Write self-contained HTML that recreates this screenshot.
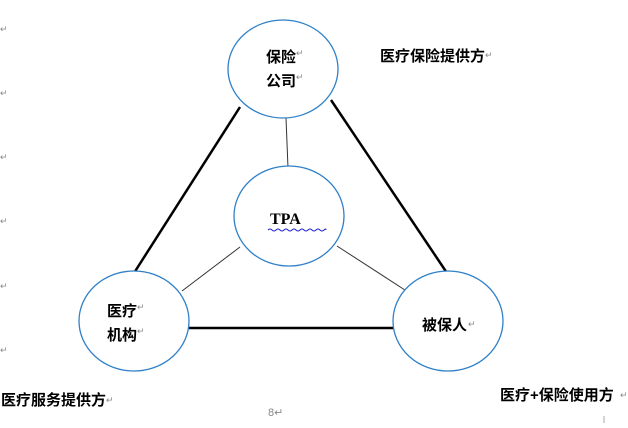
<!DOCTYPE html><html><head><meta charset="utf-8"><style>body{margin:0;background:#fff;width:628px;height:423px;overflow:hidden}</style></head><body>
<svg width="628" height="423" xmlns="http://www.w3.org/2000/svg" font-family="'Liberation Sans','Noto Sans CJK SC',sans-serif">
<g stroke="#000" stroke-width="2.5"><line x1="240" y1="107" x2="134" y2="273"/><line x1="331" y1="100" x2="447" y2="273"/><line x1="189" y1="328" x2="394" y2="328"/></g>
<g stroke="#333" stroke-width="1"><line x1="286" y1="118" x2="288" y2="168"/><line x1="240" y1="247" x2="182" y2="291"/><line x1="337" y1="246" x2="408" y2="292"/></g>
<g fill="#fff" stroke="#2f80c8" stroke-width="1.3"><ellipse cx="283" cy="69" rx="55" ry="49"/><ellipse cx="289" cy="216" rx="55" ry="50"/><ellipse cx="134" cy="321" rx="55" ry="50"/><ellipse cx="448" cy="321" rx="55" ry="50"/></g>
<g font-size="15" fill="#000" font-weight="bold">
<text x="266" y="62">保险</text><text x="266" y="86">公司</text>
<text x="380" y="61">医疗保险提供方</text>
<text x="107" y="316">医疗</text><text x="107" y="340">机构</text>
<text x="422" y="330">被保人</text>
<text x="1" y="405">医疗服务提供方</text>
<text x="500" y="400">医疗+保险使用方</text>
</g>
<text x="270" y="224" font-weight="bold" font-size="16" font-family="'Liberation Serif',serif">TPA</text>
<g font-size="9" fill="#888"><text x="296" y="56">↵</text><text x="296" y="80">↵</text><text x="485" y="58">↵</text><text x="137" y="310">↵</text><text x="137" y="334">↵</text><text x="468" y="327">↵</text><text x="106" y="403">↵</text><text x="620" y="398">↵</text><text x="0" y="32">↵</text><text x="0" y="96">↵</text><text x="0" y="160">↵</text><text x="0" y="224">↵</text><text x="0" y="289">↵</text><text x="0" y="353">↵</text></g>
<text x="268" y="416" font-size="11" fill="#888">8↵</text>
<path d="M268 230 q2 -2 4 0 t4 0 t4 0 t4 0 t4 0 t4 0 t4 0 t4 0 t4 0 t4 0 t4 0 t4 0 t4 0 t4 0 t2 0" fill="none" stroke="#22c" stroke-width="1"/>
<line x1="604" y1="416" x2="604" y2="423" stroke="#aaa"/>
</svg></body></html>
